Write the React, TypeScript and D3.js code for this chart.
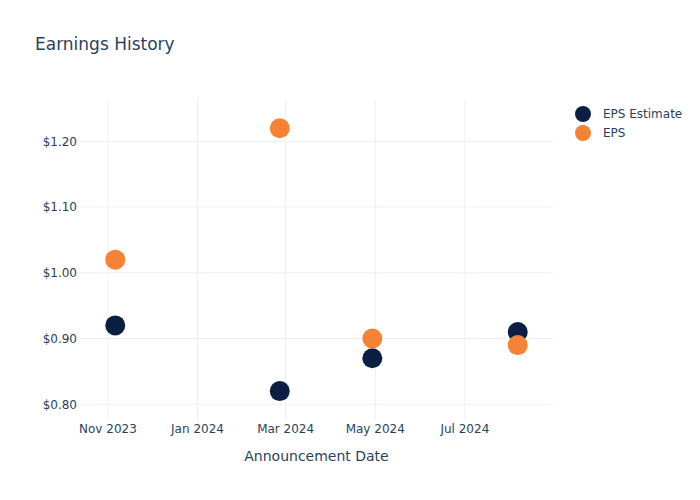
import React from "react";
import * as d3 from "d3";

const dates = ["2023-11-06", "2024-02-26", "2024-04-29", "2024-08-06"];
const epsEstimate = [0.92, 0.82, 0.87, 0.91];
const epsActual = [1.02, 1.22, 0.9, 0.89];
const xTickDates = ["2023-11-01", "2024-01-01", "2024-03-01", "2024-05-01", "2024-07-01"];
const yTicks = [0.8, 0.9, 1.0, 1.1, 1.2];
const xDomain = ["2023-10-13", "2024-08-30"];
const yDomain = [0.776, 1.263];
const seriesNames = ["EPS Estimate", "EPS"];
const seriesColors = ["#0b1f42", "#f58235"];

const W = 700, H = 500;
const L = 80, R = 553, T = 100, B = 420;
const FONT = "'DejaVu Sans', Verdana, sans-serif";
const TXT = "#2a3f5f";
const GRID = "#ebf0f8";

const parse = (s: string) => new Date(s + "T00:00:00Z");

export default function App() {
  const x = d3.scaleUtc().domain(xDomain.map(parse)).range([L, R]);
  const y = d3.scaleLinear().domain(yDomain).range([B, T]);
  const fmtX = d3.utcFormat("%b %Y");
  const fmtY = (v: number) => "$" + d3.format(".2f")(v);
  const series = [epsEstimate, epsActual];

  return (
    <svg width={W} height={H} style={{ position: "absolute", left: 0, top: 0, background: "#fff" }} fontFamily={FONT}>
      <rect x={0} y={0} width={W} height={H} fill="#fff" />
      {xTickDates.map((d) => {
        const px = x(parse(d));
        return <line key={d} x1={px} x2={px} y1={T} y2={B} stroke={GRID} strokeWidth={1} />;
      })}
      {yTicks.map((v) => (
        <line key={v} x1={L} x2={R} y1={y(v)} y2={y(v)} stroke={GRID} strokeWidth={1} />
      ))}
      {yTicks.map((v) => (
        <text key={"yt" + v} x={L - 3} y={y(v)} dy="0.36em" textAnchor="end" fontSize={12} fill={TXT}>
          {fmtY(v)}
        </text>
      ))}
      {xTickDates.map((d) => (
        <text key={"xt" + d} x={x(parse(d))} y={B + 13} textAnchor="middle" fontSize={12} fill={TXT}>
          {fmtX(parse(d))}
        </text>
      ))}
      {series.map((vals, si) =>
        vals.map((v, i) => (
          <circle key={si + "-" + i} cx={x(parse(dates[i]))} cy={y(v)} r={10} fill={seriesColors[si]} />
        ))
      )}
      <text x={35} y={50} fontSize={17} fill={TXT}>Earnings History</text>
      <text x={(L + R) / 2} y={461} textAnchor="middle" fontSize={14} fill={TXT}>Announcement Date</text>
      {seriesNames.map((n, i) => (
        <g key={n} transform={`translate(583, ${114 + i * 19})`}>
          <circle cx={0} cy={0} r={8} fill={seriesColors[i]} />
          <text x={20} y={0} dy="0.36em" fontSize={12} fill={TXT}>{n}</text>
        </g>
      ))}
    </svg>
  );
}
